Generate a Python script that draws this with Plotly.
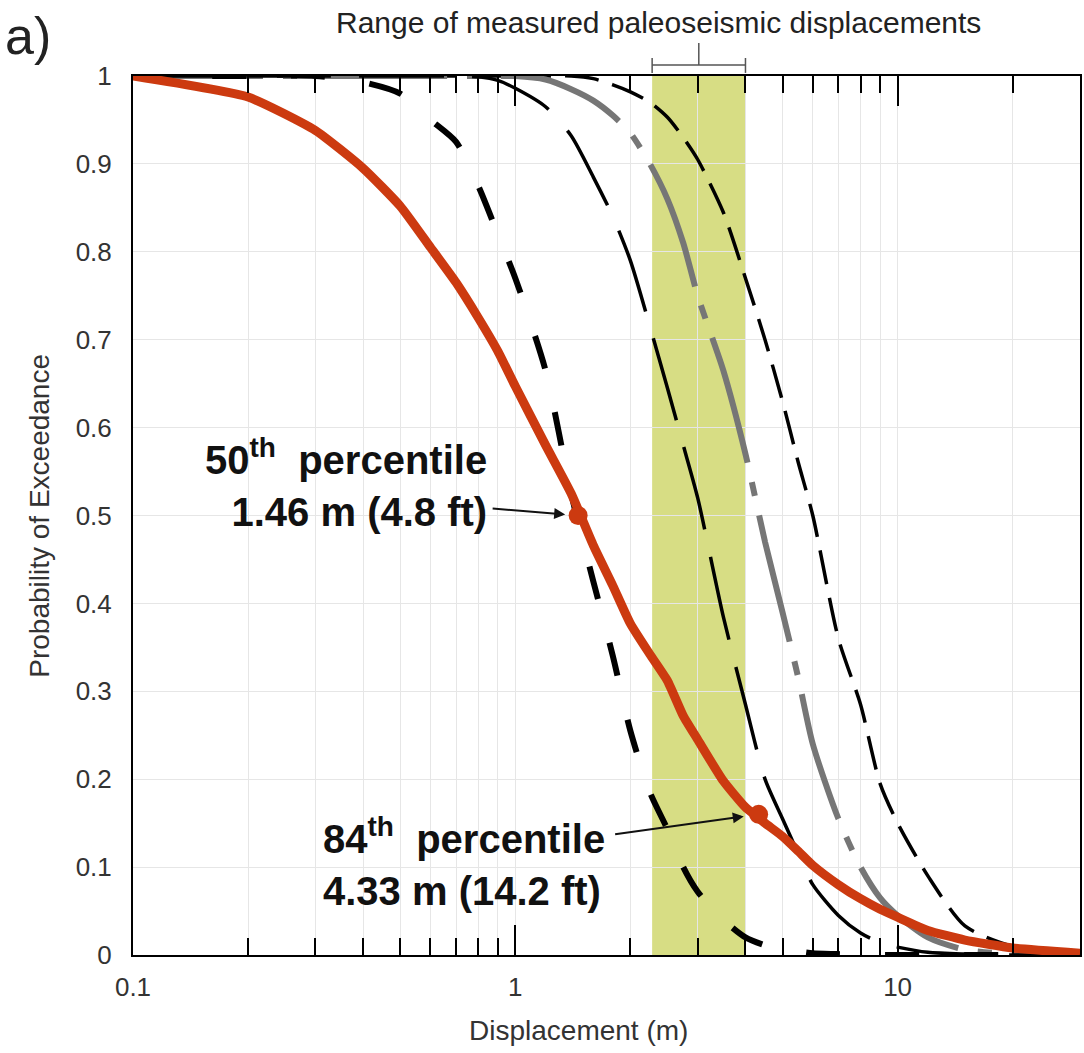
import numpy as np
import plotly.graph_objects as go

# Displacement grid (m)
disp = [0.1, 0.2, 0.3, 0.4, 0.5, 0.6, 0.7, 0.8, 0.9, 1.0, 1.2, 1.4, 1.6, 1.8, 2.0,
        2.25, 2.5, 2.75, 3.0, 3.5, 4.0, 4.5, 5.0, 5.5, 6.0, 7.0, 8.0, 9.0, 10.0,
        12.0, 15.0, 20.0, 30.0]

# Probability of exceedance curves
p_red = [1.0, 0.976, 0.938, 0.895, 0.852, 0.805, 0.765, 0.725, 0.687, 0.647, 0.58, 0.525,
         0.466, 0.42, 0.377, 0.342, 0.312, 0.272, 0.245, 0.198, 0.168, 0.15, 0.135, 0.118,
         0.102, 0.08, 0.064, 0.052, 0.043, 0.028, 0.017, 0.008, 0.002]
p_bold_dash = [1.0, 1.0, 1.0, 0.993, 0.98, 0.95, 0.925, 0.875, 0.82, 0.77, 0.665, 0.525,
               0.425, 0.34, 0.255, 0.185, 0.143, 0.1, 0.072, 0.04, 0.02, 0.011, 0.006, 0.004,
               0.002, 0.001, 0.0, 0.0, 0.0, 0.0, 0.0, 0.0, 0.0]
p_long_dash = [1.0, 1.0, 1.0, 1.0, 1.0, 1.0, 1.0, 0.999, 0.995, 0.986, 0.965, 0.932,
               0.885, 0.84, 0.79, 0.715, 0.645, 0.58, 0.52, 0.385, 0.285, 0.2, 0.155, 0.115,
               0.08, 0.045, 0.025, 0.014, 0.009, 0.003, 0.001, 0.0, 0.0]
p_gray = [1.0, 1.0, 1.0, 1.0, 1.0, 1.0, 1.0, 1.0, 1.0, 1.0, 0.996, 0.985,
          0.972, 0.955, 0.935, 0.9, 0.86, 0.81, 0.75, 0.665, 0.57, 0.47, 0.39, 0.315,
          0.24, 0.155, 0.1, 0.065, 0.045, 0.02, 0.006, 0.001, 0.0]
p_short_dash = [1.0, 1.0, 1.0, 1.0, 1.0, 1.0, 1.0, 1.0, 1.0, 1.0, 1.0, 1.0,
                0.997, 0.99, 0.982, 0.97, 0.953, 0.93, 0.905, 0.845, 0.77, 0.7, 0.63, 0.56,
                0.5, 0.36, 0.285, 0.195, 0.15, 0.09, 0.033, 0.01, 0.001]

# Percentile markers on the red curve
pct_x = [1.46, 4.33]
pct_y = [0.5, 0.16]
pct_text = ["<b>50<sup>th</sup>\u00a0 percentile<br>1.46 m (4.8 ft)</b>",
            "<b>84<sup>th</sup>\u00a0 percentile<br>4.33 m (14.2 ft)</b>"]

# Range of measured paleoseismic displacements (m)
band = [2.28, 4.0]

major_x = [0.1, 1, 10]
minor_x = [0.2, 0.3, 0.4, 0.5, 0.6, 0.7, 0.8, 0.9, 2, 3, 4, 5, 6, 7, 8, 9, 20]
y_ticks = [0, 0.1, 0.2, 0.3, 0.4, 0.5, 0.6, 0.7, 0.8, 0.9, 1]
y_ticktext = ["0", "0.1", "0.2", "0.3", "0.4", "0.5", "0.6", "0.7", "0.8", "0.9", "1"]

RED = "#cc3a10"
FONT = "Liberation Sans, Arial, sans-serif"

fig = go.Figure()

fig.add_trace(go.Scatter(x=disp, y=p_short_dash, mode="lines",
                         line=dict(color="black", width=3.5, dash="34px,14px",
                                   shape="spline", smoothing=0.7)))
fig.add_trace(go.Scatter(x=disp, y=p_gray, mode="lines",
                         line=dict(color="#767676", width=6, dash="130px,20px,14px,20px",
                                   shape="spline", smoothing=0.7)))
fig.add_trace(go.Scatter(x=disp, y=p_long_dash, mode="lines",
                         line=dict(color="black", width=3.5, dash="85px,28px",
                                   shape="spline", smoothing=0.7)))
fig.add_trace(go.Scatter(x=disp, y=p_bold_dash, mode="lines",
                         line=dict(color="black", width=6, dash="34px,45px",
                                   shape="spline", smoothing=0.7)))
fig.add_trace(go.Scatter(x=disp, y=p_red, mode="lines",
                         line=dict(color=RED, width=9, shape="spline", smoothing=0.5)))
fig.add_trace(go.Scatter(x=pct_x, y=pct_y, mode="markers",
                         marker=dict(color=RED, size=19)))

# shaded range band
fig.add_shape(type="rect", xref="x", yref="paper", x0=band[0], x1=band[1], y0=0, y1=1,
              fillcolor="#d7dd84", line=dict(width=0), layer="below")
# bracket above the band
bc = float(np.sqrt(band[0] * band[1]))
bl = dict(color="#555555", width=1.5)
fig.add_shape(type="line", xref="x", yref="paper", x0=band[0], x1=band[1], y0=1.0125, y1=1.0125, line=bl)
fig.add_shape(type="line", xref="x", yref="paper", x0=band[0], x1=band[0], y0=1.0035, y1=1.0205, line=bl)
fig.add_shape(type="line", xref="x", yref="paper", x0=band[1], x1=band[1], y0=1.0035, y1=1.0205, line=bl)
fig.add_shape(type="line", xref="x", yref="paper", x0=bc, x1=bc, y0=1.0125, y1=1.0375, line=bl)

annotations = [
    dict(text="Range of measured paleoseismic displacements", xref="paper", yref="paper",
         x=0.555, y=1.061, showarrow=False, xanchor="center", yanchor="middle",
         font=dict(family=FONT, size=30, color="#222")),
    dict(text="a)", xref="paper", yref="paper", x=-0.137, y=1.045, showarrow=False,
         xanchor="left", yanchor="middle", font=dict(family=FONT, size=52, color="#222")),
    dict(text="Displacement (m)", xref="paper", yref="paper", x=0.47, y=-0.086,
         showarrow=False, xanchor="center", yanchor="middle",
         font=dict(family=FONT, size=28, color="#333")),
    dict(text="Probability of Exceedance", xref="paper", yref="paper", x=-0.099, y=0.5,
         showarrow=False, xanchor="center", yanchor="middle", textangle=-90,
         font=dict(family=FONT, size=28, color="#333")),
    dict(text=pct_text[0], xref="paper", yref="paper", x=0.376, y=0.537, showarrow=False,
         xanchor="right", yanchor="middle", align="right",
         font=dict(family=FONT, size=40, color="#111")),
    dict(text=pct_text[1], xref="paper", yref="paper", x=0.199, y=0.106, showarrow=False,
         xanchor="left", yanchor="middle", align="left",
         font=dict(family=FONT, size=40, color="#111")),
    dict(text="", xref="x", yref="y", x=np.log10(pct_x[0]), y=pct_y[0], showarrow=True,
         ax=-87, ay=-7, arrowhead=2, arrowsize=1.1, arrowwidth=2, arrowcolor="#111", standoff=13),
    dict(text="", xref="x", yref="y", x=np.log10(pct_x[1]), y=pct_y[1], showarrow=True,
         ax=-145, ay=20, arrowhead=2, arrowsize=1.1, arrowwidth=2, arrowcolor="#111", standoff=15),
]

fig.update_layout(
    width=1084, height=1053,
    margin=dict(l=133, r=2, t=76, b=98),
    paper_bgcolor="white", plot_bgcolor="white",
    showlegend=False,
    annotations=annotations,
    xaxis=dict(type="log", range=[np.log10(0.1), np.log10(30)],
               tickvals=major_x, ticktext=["0.1", "1", "10"],
               ticks="inside", ticklen=30, tickwidth=2, tickcolor="black",
               showline=True, linecolor="black", linewidth=2, mirror="ticks",
               showgrid=True, gridcolor="#e6e6e6", gridwidth=1, zeroline=False,
               ticklabelstandoff=8,
               tickfont=dict(family=FONT, size=26, color="#333"),
               minor=dict(tickvals=minor_x, ticks="inside", ticklen=17, tickwidth=2,
                          tickcolor="black", showgrid=True, gridcolor="#e6e6e6", gridwidth=1)),
    yaxis=dict(range=[0, 1], tickvals=y_ticks, ticktext=y_ticktext, ticks="",
               showline=True, linecolor="black", linewidth=2, mirror=True,
               showgrid=True, gridcolor="#e6e6e6", gridwidth=1, zeroline=False,
               ticklabelstandoff=14,
               tickfont=dict(family=FONT, size=26, color="#333")),
)

fig.write_html("out.html")
